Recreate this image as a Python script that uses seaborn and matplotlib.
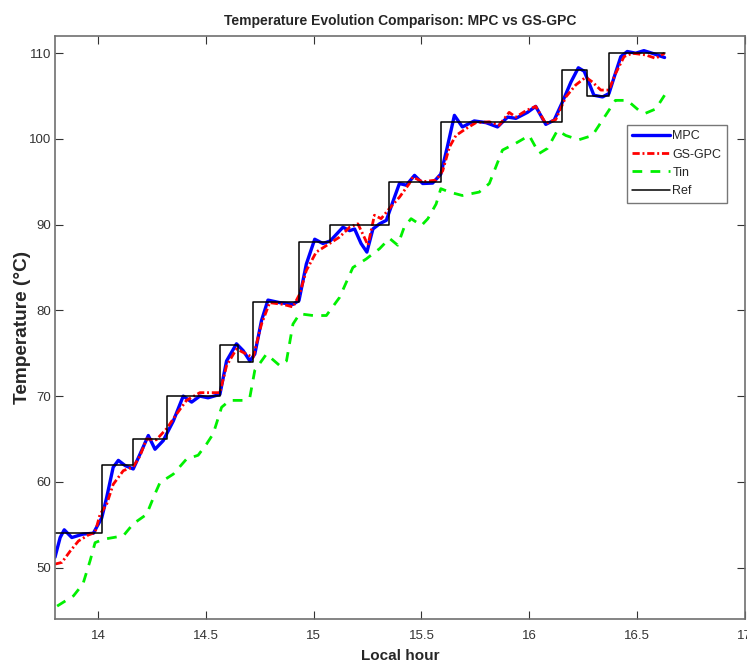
import matplotlib
matplotlib.use('Agg')
import matplotlib.pyplot as plt
import seaborn as sns
import pandas as pd

# reference set-point steps (start hour of each step, level)
ref_t = [13.8, 14.02, 14.16, 14.32, 14.565, 14.65, 14.72, 14.93, 15.075, 15.35,
         15.59, 16.15, 16.27, 16.37, 16.63]
ref_y = [54, 62, 65, 70, 76, 74, 81, 88, 90, 95, 102, 108, 105, 110, 110]

mpc_t = [13.80, 13.824, 13.843, 13.878, 13.93, 13.978, 14.017, 14.04, 14.07, 14.094,
         14.125, 14.163, 14.194, 14.233, 14.264, 14.302, 14.349, 14.395, 14.434, 14.472,
         14.51, 14.565, 14.596, 14.642, 14.673, 14.704, 14.727, 14.758, 14.788, 14.843,
         14.904, 14.932, 14.966, 15.005, 15.043, 15.077, 15.136, 15.167, 15.19, 15.22,
         15.247, 15.275, 15.306, 15.337, 15.375, 15.398, 15.43, 15.468, 15.506, 15.552,
         15.59, 15.62, 15.653, 15.69, 15.745, 15.8, 15.853, 15.9, 15.938, 15.992,
         16.03, 16.077, 16.116, 16.154, 16.193, 16.228, 16.255, 16.278, 16.3, 16.34,
         16.37, 16.394, 16.425, 16.455, 16.494, 16.532, 16.57, 16.628]
mpc_y = [51.2, 53.5, 54.4, 53.5, 53.9, 54.0, 55.8, 58.2, 61.7, 62.5,
         61.9, 61.5, 63.2, 65.4, 63.8, 64.8, 67.1, 70.0, 69.3, 70.0,
         69.8, 70.2, 74.1, 76.1, 75.3, 74.1, 74.9, 78.8, 81.2, 80.9,
         80.7, 81.15, 85.4, 88.3, 87.8, 88.1, 89.7, 89.3, 89.5, 87.8,
         86.8, 89.5, 90.1, 90.5, 93.2, 94.8, 94.6, 95.75, 94.8, 94.85,
         95.9, 99.05, 102.75, 101.4, 102.1, 101.9, 101.4, 102.55, 102.4, 103.1,
         103.8, 101.7, 102.2, 104.3, 106.6, 108.3, 107.9, 106.5, 105.1, 104.9,
         105.3, 107.2, 109.6, 110.2, 110.0, 110.3, 110.0, 109.5]

gpc_t = [13.80, 13.832, 13.87, 13.909, 13.955, 13.986, 14.009, 14.04, 14.07, 14.117,
         14.163, 14.194, 14.225, 14.27, 14.318, 14.364, 14.41, 14.472, 14.534, 14.565,
         14.596, 14.642, 14.688, 14.719, 14.758, 14.796, 14.858, 14.904, 14.935, 14.966,
         15.012, 15.074, 15.12, 15.167, 15.205, 15.228, 15.252, 15.282, 15.313, 15.352,
         15.398, 15.444, 15.46, 15.506, 15.568, 15.599, 15.63, 15.66, 15.707, 15.753,
         15.815, 15.861, 15.907, 15.938, 15.985, 16.03, 16.077, 16.123, 16.17, 16.216,
         16.262, 16.293, 16.332, 16.37, 16.4, 16.44, 16.478, 16.54, 16.587, 16.628]
gpc_y = [50.4, 50.6, 51.9, 53.1, 53.8, 54.1, 56.2, 57.4, 59.7, 61.3,
         61.75, 63.0, 65.0, 64.9, 66.2, 67.9, 69.5, 70.4, 70.4, 70.4,
         73.55, 75.5, 74.9, 74.5, 78.4, 80.9, 80.7, 80.4, 81.9, 84.65,
         86.8, 87.8, 88.55, 89.7, 90.1, 88.9, 87.6, 91.1, 90.7, 91.9,
         93.2, 94.8, 95.55, 95.0, 95.2, 96.3, 99.05, 100.4, 101.2, 101.9,
         102.0, 101.6, 103.1, 102.55, 103.3, 103.8, 101.8, 102.25, 104.9, 106.3,
         107.2, 106.65, 105.7, 105.7, 107.6, 109.6, 110.0, 109.8, 109.4, 110.0]

tin_t = [13.81, 13.886, 13.93, 13.963, 13.986, 14.025, 14.117, 14.163, 14.225, 14.264,
         14.287, 14.349, 14.41, 14.464, 14.503, 14.534, 14.573, 14.611, 14.673, 14.704,
         14.727, 14.781, 14.843, 14.874, 14.904, 14.935, 14.997, 15.059, 15.12, 15.182,
         15.244, 15.306, 15.352, 15.39, 15.42, 15.452, 15.5, 15.53, 15.568, 15.59,
         15.63, 15.69, 15.768, 15.815, 15.876, 15.938, 16.0, 16.046, 16.085, 16.131,
         16.17, 16.23, 16.293, 16.34, 16.4, 16.455, 16.51, 16.54, 16.587, 16.628]
tin_y = [45.5, 46.7, 48.1, 50.8, 52.9, 53.3, 53.7, 55.1, 56.2, 58.6,
         59.9, 60.9, 62.65, 63.1, 64.4, 65.6, 68.7, 69.5, 69.5, 69.85,
         73.0, 74.9, 73.55, 74.1, 78.4, 79.6, 79.4, 79.4, 81.5, 85.0,
         86.0, 87.2, 88.4, 87.6, 89.7, 90.7, 89.9, 90.7, 92.4, 94.2,
         93.8, 93.4, 93.8, 94.8, 98.7, 99.5, 100.4, 98.3, 98.9, 101.0,
         100.4, 99.9, 100.4, 102.2, 104.5, 104.5, 103.3, 103.0, 103.5, 105.1]

x_ticks = [14, 14.5, 15, 15.5, 16, 16.5, 17]
x_labels = ['14', '14.5', '15', '15.5', '16', '16.5', '17']
y_ticks = [50, 60, 70, 80, 90, 100, 110]

sns.set_style('white')
plt.rcParams['font.family'] = ['Liberation Sans', 'DejaVu Sans']

fig = plt.figure(figsize=(7.47, 6.68), dpi=100)
ax = fig.add_axes([0.0736, 0.0734, 0.9234, 0.8726])

mpc = pd.DataFrame({'t': mpc_t, 'y': mpc_y})
gpc = pd.DataFrame({'t': gpc_t, 'y': gpc_y})
tin = pd.DataFrame({'t': tin_t, 'y': tin_y})
ref = pd.DataFrame({'t': ref_t, 'y': ref_y})

sns.lineplot(data=mpc, x='t', y='y', ax=ax, color='#0000ff', linewidth=2.4,
             estimator=None, sort=False, label='MPC')
sns.lineplot(data=gpc, x='t', y='y', ax=ax, color='#ff0000', linewidth=2.0,
             linestyle=(0, (2.6, 1.0, 0.7, 1.0)), estimator=None, sort=False, label='GS-GPC')
sns.lineplot(data=tin, x='t', y='y', ax=ax, color='#00f000', linewidth=2.0,
             linestyle=(0, (3.5, 3)), estimator=None, sort=False, label='Tin')
sns.lineplot(data=ref, x='t', y='y', ax=ax, color='black', linewidth=1.1,
             drawstyle='steps-post', estimator=None, sort=False, label='Ref')

ax.set_xlim(13.8, 17)
ax.set_ylim(44, 112)
ax.set_xticks(x_ticks)
ax.set_xticklabels(x_labels)
ax.set_yticks(y_ticks)
ax.tick_params(direction='in', length=6, width=0.8, colors='#333333',
               labelsize=9.5, top=True, right=True, bottom=True, left=True)
ax.tick_params(axis='x', pad=8)
ax.tick_params(axis='y', pad=2.5)
for s in ax.spines.values():
    s.set_color('#707070')
    s.set_linewidth(1.2)

ax.set_title('Temperature Evolution Comparison: MPC vs GS-GPC', fontsize=10,
             fontweight='bold', pad=8)
ax.set_xlabel('Local hour', fontsize=11, fontweight='bold', labelpad=5)
ax.set_ylabel('Temperature (\u00b0C)', fontsize=13.7, fontweight='bold')
ax.yaxis.set_label_coords(-0.035, 0.5)

leg = ax.legend(loc='upper left', bbox_to_anchor=(0.829, 0.848), fontsize=9,
                frameon=True, fancybox=False, edgecolor='#555555', handlelength=3.0,
                borderpad=0.45, labelspacing=0.5, handletextpad=0.2, borderaxespad=0)
leg.get_frame().set_linewidth(1.0)

fig.savefig('out.png', dpi=100)
